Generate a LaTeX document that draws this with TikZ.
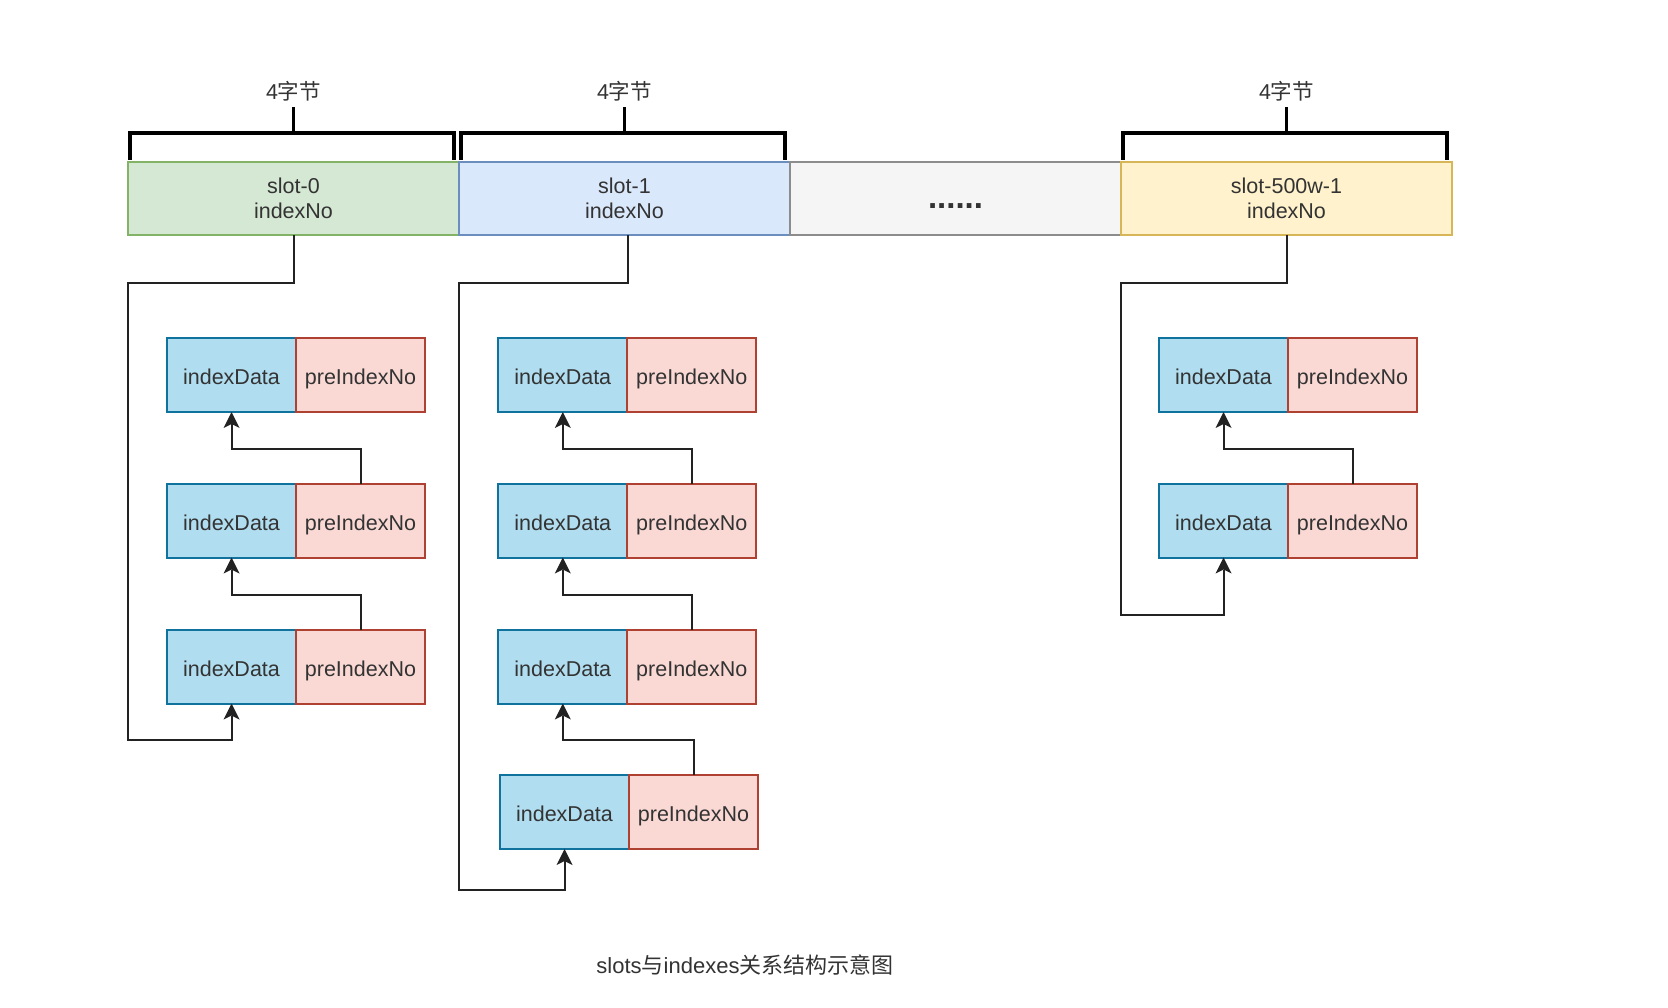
\documentclass[tikz,border=0pt]{standalone}
\usepackage{fontspec}
\setmainfont{Liberation Sans}
\newfontfamily\cjk{Noto Sans CJK SC}
\usetikzlibrary{positioning,arrows.meta}

\definecolor{txtgray}{HTML}{333333}
\definecolor{linegray}{HTML}{222222}
\definecolor{greenfill}{HTML}{D5E8D4}
\definecolor{greenline}{HTML}{82B366}
\definecolor{bluefill}{HTML}{DAE8FC}
\definecolor{blueline}{HTML}{6C8EBF}
\definecolor{grayfill}{HTML}{F5F5F5}
\definecolor{grayline}{HTML}{8C8C8C}
\definecolor{yellowfill}{HTML}{FFF2CC}
\definecolor{yellowline}{HTML}{D6B656}
\definecolor{datafill}{HTML}{B1DDF0}
\definecolor{dataline}{HTML}{10739E}
\definecolor{prefill}{HTML}{FAD9D5}
\definecolor{preline}{HTML}{AE4132}

\tikzset{
  slotbox/.style={draw, line width=2pt, minimum width=331pt, minimum height=73pt,
    inner sep=0pt, outer sep=0pt, align=center, text=txtgray,
    font=\fontsize{21.5}{25}\selectfont},
  databox/.style={draw=dataline, fill=datafill, line width=2pt, minimum width=129pt,
    minimum height=74pt, inner sep=0pt, outer sep=0pt, text=txtgray,
    text height=19pt, text depth=0pt, font=\fontsize{21.5}{25}\selectfont},
  prebox/.style={databox, draw=preline, fill=prefill},
  link/.style={draw=linegray, line width=2pt,
    -{Stealth[length=16pt,width=16pt,inset=4pt,line width=0pt]}},
  brace/.style={draw=black, line width=3.2pt},
  bytes/.style={text=txtgray, font=\fontsize{21.5}{25}\selectfont, inner sep=0pt},
  caption/.style={text=txtgray, font=\fontsize{22}{26}\selectfont}
}

\begin{document}
\begin{tikzpicture}[x=1pt,y=-1pt]
  \useasboundingbox (0,0) rectangle (1668,1008);

  % Slot array
  \node[slotbox, fill=greenfill, draw=greenline] (s0) at (293.5,198.5) {slot-0\\indexNo};
  \node[slotbox, fill=bluefill, draw=blueline, right=0pt of s0] (s1) {slot-1\\indexNo};
  \node[slotbox, fill=grayfill, draw=grayline, right=0pt of s1, text height=20pt, text depth=0pt,
    font=\fontsize{33}{33}\selectfont\bfseries] (sdots) {......};
  \node[slotbox, fill=yellowfill, draw=yellowline, right=0pt of sdots] (sn) {slot-500w-1\\indexNo};

  % Brackets over the slots
  \foreach \s in {s0,s1,sn} {
    \draw[brace] ([xshift=2pt,yshift=2pt]\s.north west) |- ([xshift=-5pt,yshift=29pt]\s.north east)
      -- ([xshift=-5pt,yshift=2pt]\s.north east);
    \draw[brace] ([yshift=29pt]\s.north) -- ([yshift=55pt]\s.north)
      node[bytes, above=4pt] (b\s) {4{\cjk 字节}};
  }

  % Index entries
  \foreach \r/\y in {1/375,2/520.5,3/666.5} {
    \node[databox] (d1\r) at (231.5,\y) {indexData};
    \node[prebox, right=0pt of d1\r] (p1\r) {preIndexNo};
    \node[databox] (d2\r) at (562.8,\y) {indexData};
    \node[prebox, right=0pt of d2\r] (p2\r) {preIndexNo};
  }
  \node[databox] (d24) at (564.5,812) {indexData};
  \node[prebox, right=0pt of d24] (p24) {preIndexNo};
  \foreach \r/\y in {1/375,2/520.5} {
    \node[databox] (d3\r) at (1223.5,\y) {indexData};
    \node[prebox, right=0pt of d3\r] (p3\r) {preIndexNo};
  }

  % Links from slots to the last entry
  \draw[link] (s0.south) |- ([yshift=-48pt]s0.south west)
    |- ([yshift=-36pt]d13.south) -- (d13.south);
  \draw[link] ([xshift=3pt]s1.south) |- ([yshift=-48pt]s1.south west)
    |- ([yshift=-41pt]d24.south) -- (d24.south);
  \draw[link] (sn.south) |- ([yshift=-48pt]sn.south west)
    |- ([yshift=-57pt]d32.south) -- (d32.south);

  % Links between entries
  \foreach \a/\b in {11/12,12/13,21/22,22/23,23/24,31/32}
    \draw[link] (p\b.north) -- ++(0,-35) -| (d\a.south);

  % Caption
  \node[caption] (cap) at (745,965) {slots{\cjk 与}indexes{\cjk 关系结构示意图}};
\end{tikzpicture}
\end{document}
